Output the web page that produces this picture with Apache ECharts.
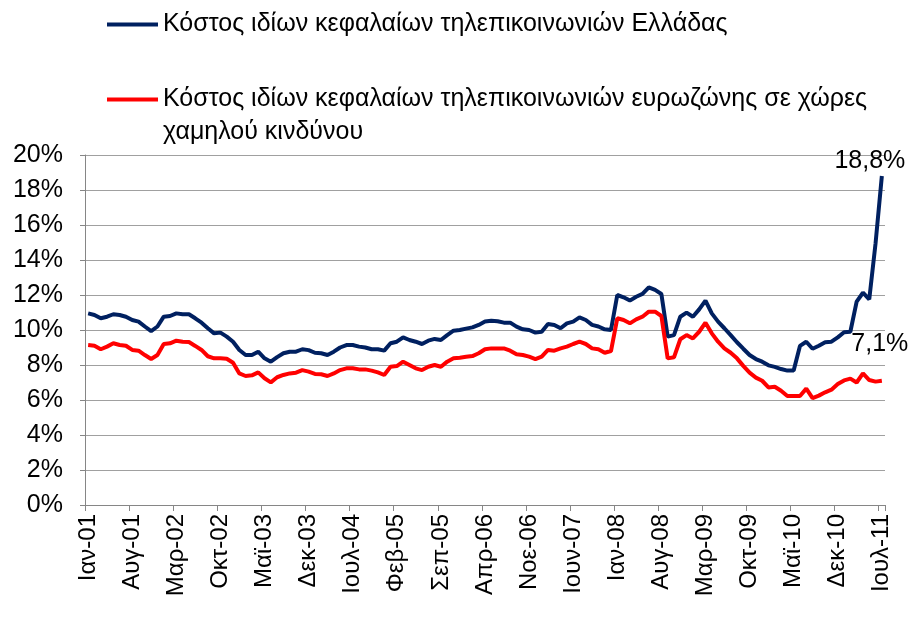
<!DOCTYPE html>
<html>
<head>
<meta charset="utf-8">
<script src="https://cdn.jsdelivr.net/npm/echarts@6/dist/echarts.min.js"></script>
<style>
html, body { margin: 0; padding: 0; background: #fff; }
#chart { width: 910px; height: 617px; }
</style>
</head>
<body>
<div id="chart"></div>
<script>
// month labels, Ιαν-01 .. Ιουλ-11
var monthNames = ['Ιαν', 'Φεβ', 'Μαρ', 'Απρ', 'Μαϊ', 'Ιουν', 'Ιουλ', 'Αυγ', 'Σεπ', 'Οκτ', 'Νοε', 'Δεκ'];
var years = ['01', '02', '03', '04', '05', '06', '07', '08', '09', '10', '11'];
var lastMonthIndex = 6; // Ιουλ-11

var seriesNames = [
	'Κόστος ιδίων κεφαλαίων τηλεπικοινωνιών Ελλάδας',
	'Κόστος ιδίων κεφαλαίων τηλεπικοινωνιών ευρωζώνης σε χώρες χαμηλού κινδύνου'
];

// % values
var greece = [
	10.95, 10.86, 10.67, 10.76, 10.9, 10.86, 10.76, 10.57, 10.48, 10.2, 9.94, 10.2,
	10.76, 10.8, 10.95, 10.9, 10.9, 10.67, 10.42, 10.1, 9.81, 9.85, 9.62, 9.33,
	8.86, 8.57, 8.57, 8.76, 8.38, 8.19, 8.45, 8.67, 8.76, 8.76, 8.9, 8.85,
	8.7, 8.67, 8.57, 8.76, 9.0, 9.14, 9.14, 9.05, 9.0, 8.9, 8.9, 8.82,
	9.24, 9.33, 9.58, 9.43, 9.33, 9.2, 9.39, 9.49, 9.43, 9.71, 9.96, 10.0,
	10.08, 10.15, 10.29, 10.48, 10.53, 10.5, 10.42, 10.42, 10.19, 10.04, 10.0, 9.85,
	9.9, 10.34, 10.29, 10.1, 10.38, 10.48, 10.72, 10.57, 10.29, 10.2, 10.04, 10.0,
	12.0, 11.87, 11.68, 11.9, 12.06, 12.44, 12.29, 12.06, 9.62, 9.71, 10.76, 10.99,
	10.76, 11.18, 11.68, 10.95, 10.48, 10.1, 9.71, 9.3, 8.93, 8.57, 8.34, 8.19,
	7.98, 7.89, 7.77, 7.68, 7.68, 9.09, 9.33, 8.93, 9.1, 9.3, 9.33, 9.58,
	9.87, 9.9, 11.62, 12.13, 11.75, 14.95, 18.8
];
var eurozone = [
	9.14, 9.1, 8.9, 9.05, 9.24, 9.14, 9.1, 8.86, 8.82, 8.57, 8.34, 8.57,
	9.2, 9.24, 9.39, 9.33, 9.31, 9.09, 8.86, 8.5, 8.38, 8.38, 8.36, 8.13,
	7.52, 7.37, 7.41, 7.58, 7.24, 7.01, 7.3, 7.43, 7.52, 7.56, 7.71, 7.62,
	7.49, 7.47, 7.37, 7.52, 7.71, 7.81, 7.81, 7.75, 7.75, 7.68, 7.58, 7.43,
	7.9, 7.94, 8.19, 8.0, 7.81, 7.71, 7.9, 8.0, 7.9, 8.19, 8.38, 8.42,
	8.47, 8.51, 8.67, 8.9, 8.95, 8.95, 8.95, 8.82, 8.61, 8.57, 8.48, 8.34,
	8.48, 8.86, 8.82, 8.95, 9.05, 9.2, 9.33, 9.2, 8.95, 8.9, 8.7, 8.8,
	10.67, 10.57, 10.38, 10.61, 10.76, 11.05, 11.05, 10.8, 8.38, 8.44, 9.47, 9.71,
	9.52, 9.9, 10.42, 9.81, 9.33, 8.95, 8.7, 8.38, 7.95, 7.56, 7.28, 7.1,
	6.72, 6.76, 6.53, 6.23, 6.23, 6.23, 6.65, 6.11, 6.25, 6.44, 6.59, 6.91,
	7.12, 7.22, 7.0, 7.52, 7.14, 7.05, 7.1
];

var yTicks = {min: 0, max: 20, interval: 2};
var colors = ['#002060', '#ff0000'];

var categories = [];
years.forEach(function (y, yi) {
	monthNames.forEach(function (m, mi) {
		if (yi === years.length - 1 && mi > lastMonthIndex) return;
		categories.push(m + '-' + y);
	});
});

var font = "'Liberation Sans', Arial, sans-serif";

function pct(v) {
	return v.toFixed(1).replace('.', ',') + '%';
}

var chart = echarts.init(document.getElementById('chart'));

var option = {
	backgroundColor: '#fff',
	animation: false,
	textStyle: {fontFamily: font},
	grid: {
		left: 85,
		right: 25,
		top: 155,
		bottom: 112,
		containLabel: false
	},
	legend: {
		orient: 'vertical',
		left: 102,
		top: 3,
		itemWidth: 51,
		itemHeight: 4,
		itemGap: 9,
		icon: 'rect',
		textStyle: {
			fontFamily: font,
			fontSize: 25,
			color: '#000',
			lineHeight: 33
		},
		// second entry wraps onto two lines; an empty line on top keeps the icon level with the first line
		formatter: function (name) {
			if (name === seriesNames[1]) {
				return ' \n' + name.replace(' χαμηλού', '\nχαμηλού');
			}
			return name;
		},
		data: seriesNames
	},
	xAxis: {
		type: 'category',
		data: categories,
		boundaryGap: true,
		axisLine: {
			show: true,
			lineStyle: {color: '#868686', width: 1}
		},
		axisTick: {
			show: true,
			interval: 6,
			length: 6,
			lineStyle: {color: '#868686'}
		},
		axisLabel: {
			interval: 6,
			rotate: 90,
			margin: 9,
			color: '#000',
			fontSize: 24,
			fontFamily: font
		},
		splitLine: {show: false}
	},
	yAxis: {
		type: 'value',
		min: yTicks.min,
		max: yTicks.max,
		interval: yTicks.interval,
		axisLine: {
			show: true,
			lineStyle: {color: '#868686', width: 1}
		},
		axisTick: {
			show: true,
			length: 5,
			lineStyle: {color: '#868686'}
		},
		axisLabel: {
			formatter: '{value}%',
			margin: 22,
			color: '#000',
			fontSize: 25,
			fontFamily: font
		},
		splitLine: {
			show: true,
			lineStyle: {color: '#a0a0a0', width: 1}
		}
	},
	series: [
		{
			name: seriesNames[0],
			type: 'line',
			data: greece,
			showSymbol: false,
			color: colors[0],
			lineStyle: {width: 4, color: colors[0]},
			endLabel: {
				show: true,
				formatter: function (p) { return pct(p.value); },
				color: '#000',
				fontSize: 25,
				fontFamily: font,
				align: 'center',
				verticalAlign: 'middle',
				distance: 0,
				offset: [-12, -15]
			}
		},
		{
			name: seriesNames[1],
			type: 'line',
			data: eurozone,
			showSymbol: false,
			color: colors[1],
			lineStyle: {width: 4, color: colors[1]},
			endLabel: {
				show: true,
				formatter: function (p) { return pct(p.value); },
				color: '#000',
				fontSize: 25,
				fontFamily: font,
				align: 'center',
				verticalAlign: 'middle',
				distance: 0,
				offset: [-2, -37]
			}
		}
	]
};

chart.setOption(option);
</script>
</body>
</html>
